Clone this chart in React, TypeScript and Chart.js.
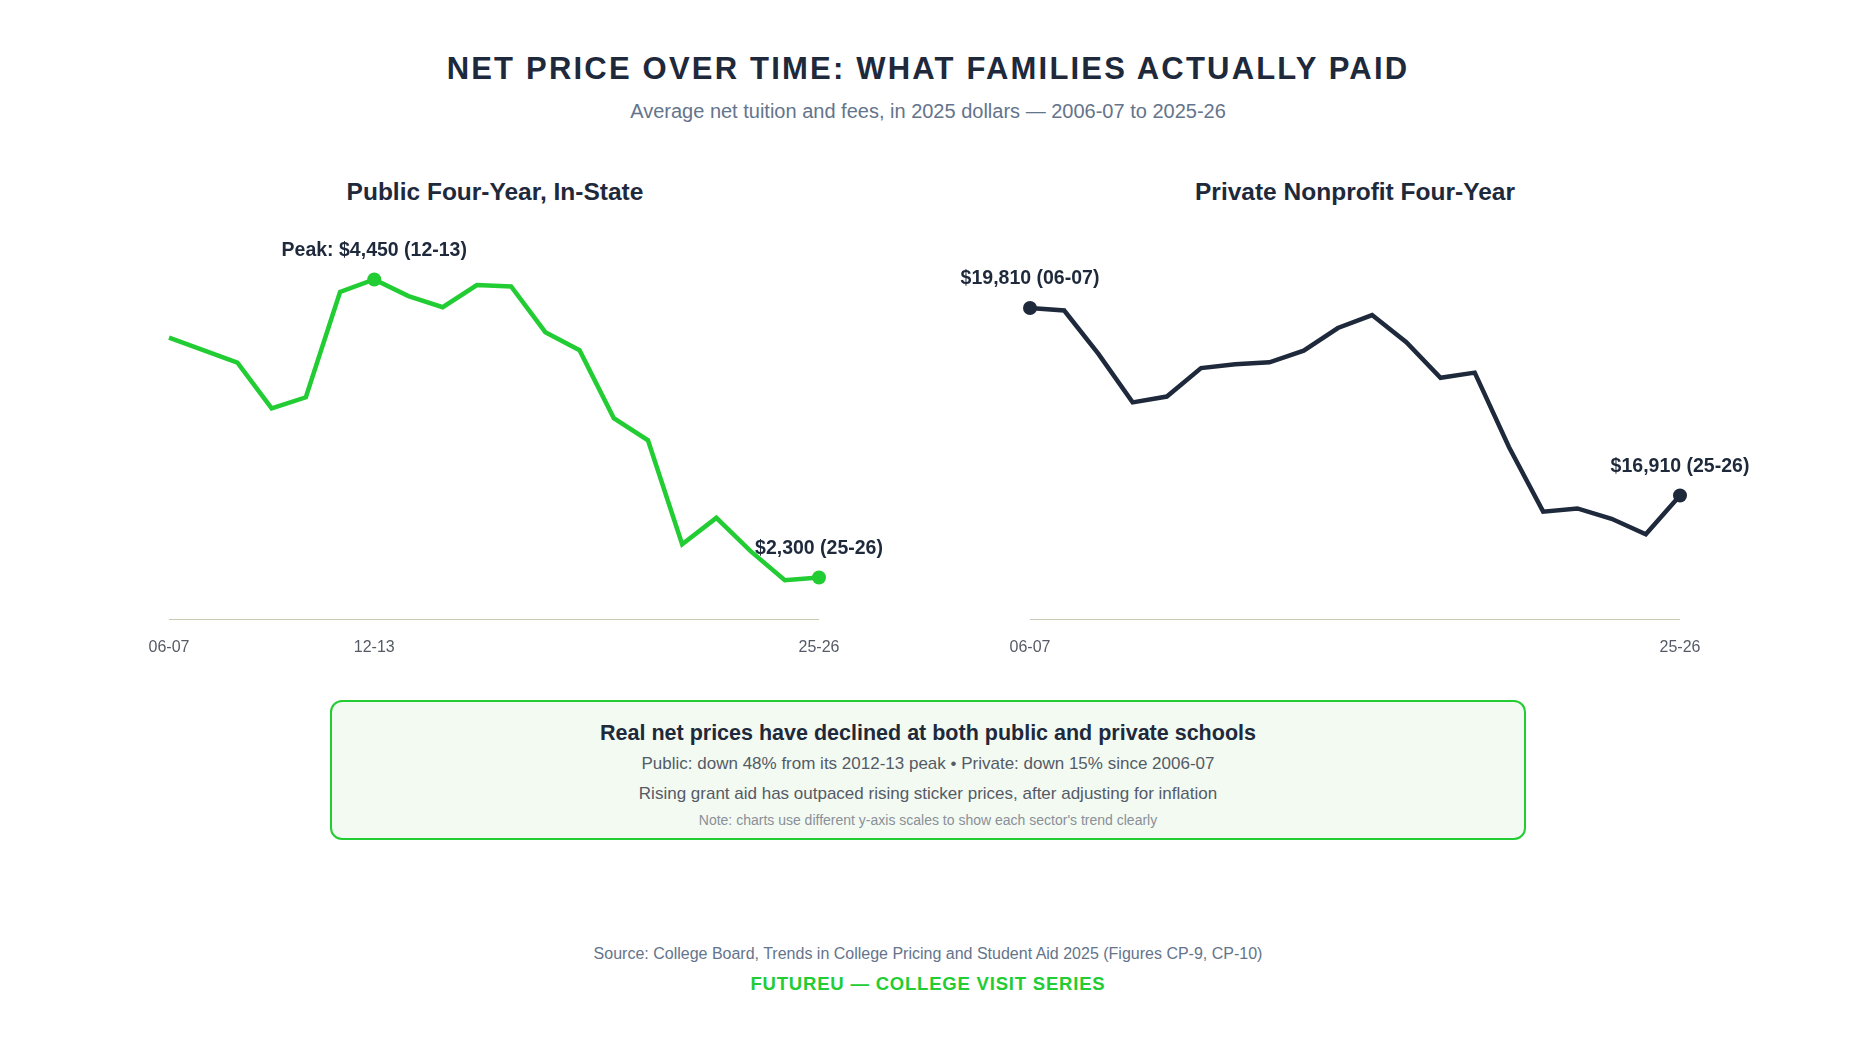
import React, { useEffect, useRef } from "react";
import { Chart, registerables } from "chart.js";
Chart.register(...registerables);

const years = ["06-07","07-08","08-09","09-10","10-11","11-12","12-13","13-14","14-15","15-16","16-17","17-18","18-19","19-20","20-21","21-22","22-23","23-24","24-25","25-26"];
const publicValues = [4030,3940,3850,3520,3600,4360,4450,4330,4250,4410,4400,4070,3940,3450,3290,2540,2730,2490,2280,2300];
const privateValues = [19810,19770,19100,18350,18440,18880,18940,18970,19150,19500,19700,19280,18730,18810,17660,16660,16710,16550,16310,16910];
const publicTicks = ["06-07","12-13","25-26"];
const privateTicks = ["06-07","25-26"];

const FONT = "'Liberation Sans', Arial, sans-serif";
const DARK = "#1e293b";
const GREEN = "#22cc33";

type Ann = { idx: number; text: string };

function LineChart(props: { values: number[]; color: string; min: number; max: number; ticks: string[]; anns: Ann[]; style: React.CSSProperties }) {
  const ref = useRef<HTMLCanvasElement>(null);
  useEffect(() => {
    const { values, color, min, max, ticks, anns } = props;
    const radius = values.map((_, i) => (anns.some(a => a.idx === i) ? 7 : 0));
    const plugin = {
      id: "deco",
      afterDatasetsDraw(chart: any) {
        const ctx = chart.ctx;
        const xs = chart.scales.x, ys = chart.scales.y;
        const area = chart.chartArea;
        ctx.save();
        ctx.strokeStyle = "#c9c9b4";
        ctx.lineWidth = 1.2;
        ctx.beginPath();
        ctx.moveTo(area.left, area.bottom + 0.5);
        ctx.lineTo(area.right, area.bottom + 0.5);
        ctx.stroke();
        ctx.fillStyle = "#555b66";
        ctx.font = `16px ${FONT}`;
        ctx.textAlign = "center";
        ctx.textBaseline = "middle";
        ticks.forEach(t => {
          const i = years.indexOf(t);
          ctx.fillText(t, xs.getPixelForValue(i), area.bottom + 29);
        });
        ctx.fillStyle = DARK;
        ctx.font = `bold 19.5px ${FONT}`;
        anns.forEach(a => {
          ctx.fillText(a.text, xs.getPixelForValue(a.idx), ys.getPixelForValue(values[a.idx]) - 29);
        });
        ctx.restore();
      },
    };
    const chart = new Chart(ref.current!, {
      type: "line",
      data: {
        labels: years,
        datasets: [{
          data: values,
          borderColor: color,
          backgroundColor: color,
          borderWidth: 4.5,
          pointRadius: radius,
          pointBorderWidth: 0,
          tension: 0,
        }],
      },
      options: {
        animation: false,
        responsive: false,
        layout: { padding: { left: 109, right: 121, top: 51, bottom: 61 } },
        plugins: { legend: { display: false }, tooltip: { enabled: false } },
        scales: {
          x: { display: false, offset: false },
          y: { display: false, min, max },
        },
      },
      plugins: [plugin],
    });
    return () => chart.destroy();
  }, []);
  return <canvas ref={ref} width={880} height={500} style={{ position: "absolute", ...props.style }} />;
}

const abs = (top: number, extra: React.CSSProperties = {}): React.CSSProperties => ({
  position: "absolute", top, left: 0, width: 1856, textAlign: "center", fontFamily: FONT, transform: "translateY(-50%)", ...extra,
});

export default function App() {
  return (
    <div style={{ position: "relative", width: 1856, height: 1044, background: "#fff", overflow: "hidden", margin: -8 }}>
      <div style={abs(69, { fontSize: 31, fontWeight: "bold", color: DARK, letterSpacing: 2.2 })}>NET PRICE OVER TIME: WHAT FAMILIES ACTUALLY PAID</div>
      <div style={abs(111, { fontSize: 20, color: "#64748b" })}>Average net tuition and fees, in 2025 dollars — 2006-07 to 2025-26</div>
      <div style={abs(192, { fontSize: 24.5, fontWeight: "bold", color: DARK, left: 120, width: 750 })}>Public Four-Year, In-State</div>
      <div style={abs(192, { fontSize: 24.5, fontWeight: "bold", color: DARK, left: 980, width: 750 })}>Private Nonprofit Four-Year</div>
      <LineChart values={publicValues} color={GREEN} min={2000} max={4800} ticks={publicTicks}
        anns={[{ idx: 6, text: "Peak: $4,450 (12-13)" }, { idx: 19, text: "$2,300 (25-26)" }]}
        style={{ left: 60, top: 180 }} />
      <LineChart values={privateValues} color={DARK} min={15000} max={21000} ticks={privateTicks}
        anns={[{ idx: 0, text: "$19,810 (06-07)" }, { idx: 19, text: "$16,910 (25-26)" }]}
        style={{ left: 921, top: 180 }} />
      <div style={{ position: "absolute", left: 330, top: 700, width: 1196, height: 140, boxSizing: "border-box", border: `2px solid ${GREEN}`, borderRadius: 12, background: "#f2faf2" }} />
      <div style={abs(733, { fontSize: 21.5, fontWeight: "bold", color: DARK })}>Real net prices have declined at both public and private schools</div>
      <div style={abs(764, { fontSize: 17, color: "#555b66" })}>Public: down 48% from its 2012-13 peak • Private: down 15% since 2006-07</div>
      <div style={abs(794, { fontSize: 17, color: "#555b66" })}>Rising grant aid has outpaced rising sticker prices, after adjusting for inflation</div>
      <div style={abs(820, { fontSize: 14, color: "#8a8f98" })}>Note: charts use different y-axis scales to show each sector's trend clearly</div>
      <div style={abs(954, { fontSize: 16, color: "#64748b" })}>Source: College Board, Trends in College Pricing and Student Aid 2025 (Figures CP-9, CP-10)</div>
      <div style={abs(984, { fontSize: 18.5, fontWeight: "bold", color: GREEN, letterSpacing: 0.8 })}>FUTUREU — COLLEGE VISIT SERIES</div>
    </div>
  );
}
